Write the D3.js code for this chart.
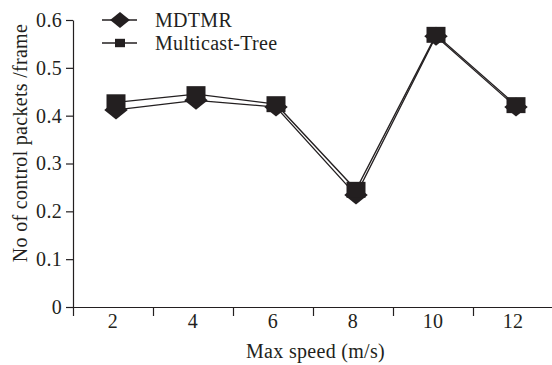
<!DOCTYPE html>
<html>
<head>
<meta charset="utf-8">
<script src="https://cdn.jsdelivr.net/npm/d3@7"></script>
<style>
  body { margin: 0; background: #fff; }
  svg text { font-family: "Liberation Serif", Tinos, "Times New Roman", serif; letter-spacing: 0.3px; }
  .axis text { font-size: 20px; fill: #231f20; }
  .axis path, .axis line { stroke: #231f20; stroke-width: 1.2; }
</style>
</head>
<body>
<svg id="chart" width="552" height="365"></svg>
<script>
// max speed categories (m/s)
const speeds = ["2", "4", "6", "8", "10", "12"];
// control packets per frame
const mdtmr = [0.412, 0.432, 0.418, 0.234, 0.566, 0.418];
const multicastTree = [0.428, 0.445, 0.424, 0.245, 0.569, 0.422];
const yTicks = [0, 0.1, 0.2, 0.3, 0.4, 0.5, 0.6];

const ink = "#231f20";
const svg = d3.select("#chart");
const margin = { left: 73, right: -1, top: 20, bottom: 58 };
const W = 552, H = 365;

const x = d3.scaleBand().domain(speeds).range([margin.left, W - margin.right]);
const xEdge = d3.scaleLinear().domain([0, speeds.length]).range(x.range());
const y = d3.scaleLinear().domain([0, 0.6]).range([H - margin.bottom, margin.top]);
const px = (d) => x(d) + x.bandwidth() / 2 + 3;

// y axis
svg.append("g")
  .attr("class", "axis")
  .attr("transform", "translate(" + margin.left + ",0)")
  .call(d3.axisLeft(y).tickValues(yTicks).tickFormat((d) => d === 0 ? "0" : d3.format(".1f")(d))
    .tickSize(7).tickSizeOuter(0).tickPadding(4))
  .attr("font-family", null);

// x axis: ticks at band edges, labels at band centers
svg.append("g")
  .attr("class", "axis")
  .attr("transform", "translate(0," + y(0) + ")")
  .call(d3.axisBottom(xEdge).tickValues(d3.range(speeds.length + 1)).tickFormat("")
    .tickSize(9).tickSizeOuter(0));

svg.append("g")
  .attr("class", "axis")
  .attr("transform", "translate(0," + y(0) + ")")
  .call(d3.axisBottom(x).tickSize(0).tickPadding(7))
  .call((g) => g.select(".domain").remove())
  .attr("font-family", null);

// axis titles
svg.append("text")
  .attr("x", (margin.left + W) / 2 + 3)
  .attr("y", 358)
  .attr("text-anchor", "middle")
  .attr("font-size", 20)
  .attr("fill", ink)
  .text("Max speed (m/s)");

svg.append("text")
  .attr("transform", "translate(27," + 143 + ") rotate(-90)")
  .attr("text-anchor", "middle")
  .attr("font-size", 20)
  .attr("fill", ink)
  .text("No of control packets /frame");

const series = [
  { name: "MDTMR", values: mdtmr, shape: "diamond" },
  { name: "Multicast-Tree", values: multicastTree, shape: "square" },
];

const line = d3.line().x((d) => px(d.k)).y((d) => y(d.v));

function marker(g, shape, s) {
  if (shape === "square") {
    g.append("rect").attr("x", -s * 0.5).attr("y", -s * 0.42)
      .attr("width", s).attr("height", s * 0.84).attr("fill", ink);
  } else {
    const w = s * 0.62, h = s * 0.5;
    g.append("path").attr("d", "M0," + (-h) + "L" + w + ",0L0," + h + "L" + (-w) + ",0Z")
      .attr("fill", ink);
  }
}

series.forEach((s) => {
  const pts = speeds.map((k, i) => ({ k: k, v: s.values[i] }));
  svg.append("path").datum(pts)
    .attr("d", line).attr("fill", "none").attr("stroke", ink).attr("stroke-width", 1.3);
});

series.forEach((s) => {
  speeds.forEach((k, i) => {
    const g = svg.append("g").attr("transform", "translate(" + px(k) + "," + y(s.values[i]) + ")");
    marker(g, s.shape, 19);
  });
});

// legend
series.forEach((s, i) => {
  const ly = 20 + i * 23;
  svg.append("line").attr("x1", 102).attr("x2", 137).attr("y1", ly).attr("y2", ly)
    .attr("stroke", ink).attr("stroke-width", 1.3);
  const g = svg.append("g").attr("transform", "translate(120," + ly + ")");
  marker(g, s.shape, s.shape === "square" ? 10 : 16);
  svg.append("text").attr("x", 155).attr("y", ly + 7)
    .attr("font-size", 20).attr("fill", ink).text(s.name);
});
</script>
</body>
</html>
